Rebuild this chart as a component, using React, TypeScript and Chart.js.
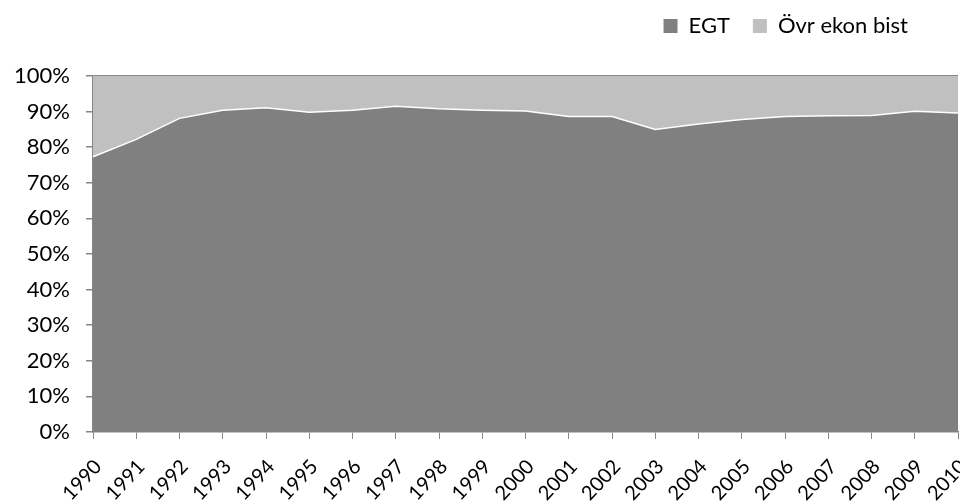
import React, { useEffect, useRef } from "react";
import { Chart, registerables } from "chart.js";

Chart.register(...registerables);

const years = ["1990","1991","1992","1993","1994","1995","1996","1997","1998","1999","2000","2001","2002","2003","2004","2005","2006","2007","2008","2009","2010"];
const egt = [77.3, 82.2, 88.1, 90.4, 91.1, 89.8, 90.4, 91.5, 90.8, 90.4, 90.2, 88.6, 88.6, 85.0, 86.5, 87.8, 88.6, 88.8, 88.9, 90.1, 89.6];
const ovr = [22.7, 17.8, 11.9, 9.6, 8.9, 10.2, 9.6, 8.5, 9.2, 9.6, 9.8, 11.4, 11.4, 15.0, 13.5, 12.2, 11.4, 11.2, 11.1, 9.9, 10.4];

const FONT = "Lato, 'Open Sans', sans-serif";
const FS = 22;

export default function App() {
  const ref = useRef<HTMLCanvasElement | null>(null);
  useEffect(() => {
    document.body.style.margin = "0";
    const legendFix = {
      id: "legendFix",
      beforeUpdate(chart: any) {
        const lg = chart.legend;
        if (lg && !lg._patched) {
          const orig = lg.fit;
          lg.fit = function () {
            orig.call(this);
            this.height = 76;
          };
          lg._patched = true;
        }
      },
      afterLayout(chart: any) {
        const lg = chart.legend;
        if (lg) {
          lg.right = 931;
          lg.top = -8;
          lg.bottom = lg.top + 76;
        }
      },
    };
    const chart = new Chart(ref.current!, {
      type: "line",
      data: {
        labels: years,
        datasets: [
          {
            label: "EGT",
            data: egt,
            backgroundColor: "#808080",
            borderColor: "#ffffff",
            borderWidth: 1.5,
            fill: "origin",
            pointRadius: 0,
            tension: 0,
          },
          {
            label: "Övr ekon bist",
            data: ovr,
            backgroundColor: "#c0c0c0",
            borderColor: "rgba(0,0,0,0)",
            borderWidth: 0,
            fill: "-1",
            pointRadius: 0,
            tension: 0,
          },
        ],
      },
      options: {
        animation: false,
        responsive: false,
        maintainAspectRatio: false,
        layout: { padding: { left: 0, right: 2, top: 0, bottom: 0 } },
        plugins: {
          tooltip: { enabled: false },
          legend: {
            position: "top",
            align: "end",
            labels: {
              font: { family: FONT, size: FS },
              color: "#000",
              boxWidth: 14,
              boxHeight: 14,
              padding: 23,
              generateLabels(chart: any) {
                return chart.data.datasets.map((d: any, i: number) => ({
                  text: d.label,
                  fillStyle: d.backgroundColor,
                  strokeStyle: d.backgroundColor,
                  lineWidth: 0,
                  datasetIndex: i,
                  fontColor: "#000",
                }));
              },
            },
          },
        },
        scales: {
          x: {
            type: "category",
            offset: false,
            grid: {
              display: true,
              drawOnChartArea: false,
              drawTicks: true,
              tickLength: 7,
              tickColor: "#868686",
            },
            border: { display: true, color: "#868686", width: 1.5 },
            ticks: {
              minRotation: 47,
              maxRotation: 47,
              autoSkip: false,
              font: { family: FONT, size: 20 },
              color: "#000",
              padding: 16,
              labelOffset: 5,
            },
            afterFit(scale: any) {
              scale.height = 71;
              scale.paddingRight = 0;
              scale.paddingLeft = 0;
            },
          },
          y: {
            stacked: true,
            min: 0,
            max: 100,
            grid: {
              drawOnChartArea: true,
              color: (ctx: any) => (ctx.tick && ctx.tick.value === 100 ? "#868686" : "rgba(0,0,0,0)"),
              lineWidth: 1.5,
              drawTicks: true,
              tickLength: 7,
              tickColor: "#868686",
            },
            border: { display: true, color: "#868686", width: 1.5 },
            ticks: {
              stepSize: 10,
              callback: (v: any) => v + "%",
              font: { family: FONT, size: FS },
              color: "#000",
              padding: 16,
            },
            afterFit(scale: any) {
              scale.width = 93;
            },
          },
        },
      },
      plugins: [legendFix],
    } as any);
    return () => chart.destroy();
  }, []);
  return (
    <div style={{ position: "fixed", left: 0, top: 0, width: 960, height: 503 }}>
      <canvas ref={ref} width={960} height={503} style={{ width: 960, height: 503 }} />
    </div>
  );
}
